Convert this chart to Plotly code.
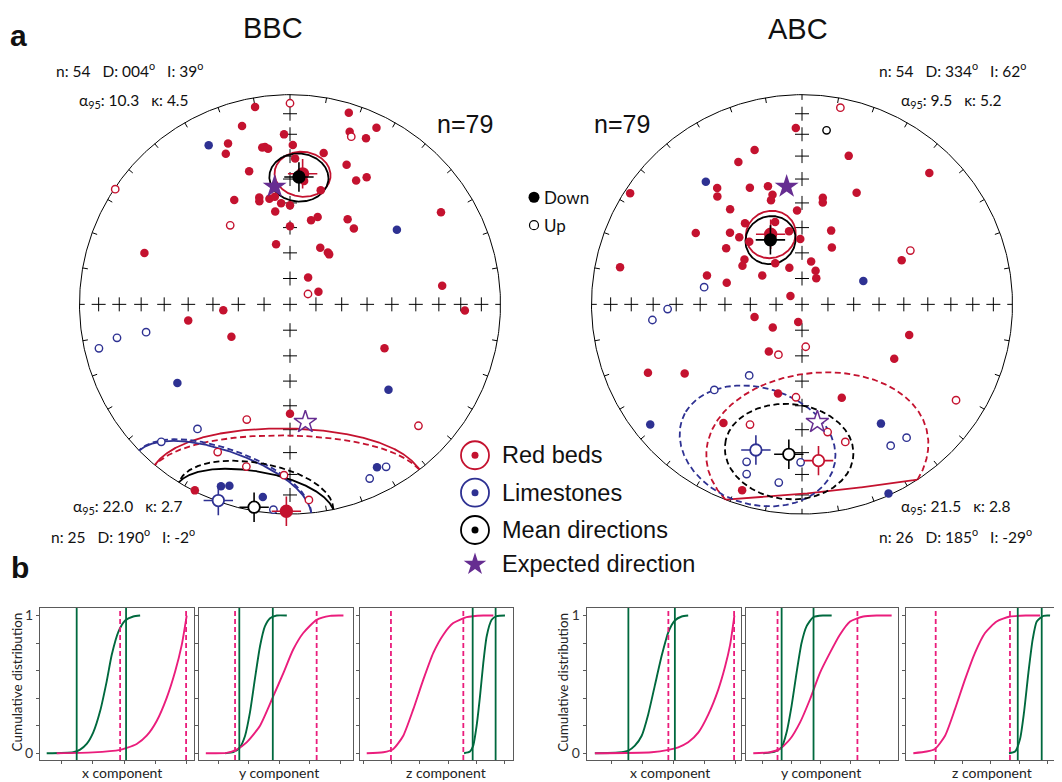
import numpy as np
import plotly.graph_objects as go

W, H = 1062, 782          # browser window
OFF = 8                   # page body margin of the html page
FW, FH = W - OFF, H - OFF  # figure size so that it ends exactly at the window edge
RED, BLUE, PURPLE = "#c4122f", "#2e3192", "#662d91"
GREEN, PINK = "#00693e", "#ea1d7c"

# ---------------- stereonet data: declination / inclination (deg); inc < 0 = upper hemisphere ----------------
bbc_red_dec = [350, 17, 345, 358, 19, 26, 24.5, 339, 350, 351, 352, 1, 337, 12.5, 2, 22, 343, 28, 31, 6.5,
               15, 332, 344, 343.5, 349, 352, 355, 0, 351, 14, 17.5, 34, 40, 0, 58.5, 289.5, 347, 28, 36, 38,
               34, 66, 83,
               0, 20, 303.5, 323, 60,
               265, 92, 261, 241, 115, 180, 207,
               200.5, 133.5, 206, 195, 182, 174.5]
bbc_red_inc = [5, 5, 13, 20, 14, 7, 14, 19, 25, 25, 26, 25, 23, 27, 31, 29, 34, 33.5, 30, 40.5,
               43, 43, 46, 47.5, 47.5, 47, 50, 51, 53, 56, 54, 49.5, 51, 59.5, 17, 27.5, 66, 65, 65, 65.3,
               77.5, 78, 28,
               -4.6, -16, -0.5, -51, -82,
               64, 18, 49.5, 64, 49, 46.7, 0.5,
               -41, -17, -22.7, -21, -19.6, -7]
bbc_lime_dec = [333, 55, 235, 131, 152, 200.7, 198.4, 188, 257, 259, 259, 216.5, 223, 149.5, 155.5, 184.6]
bbc_lime_inc = [16, 38, 35, 38, 13, 8, 9.7, 8, -7.6, -17.4, -31, -27, -11.3, -11, -9.6, -2]
bbc_other_dec = []
bbc_other_inc = []

abc_red_dec = [358, 343, 336, 17.4, 44, 303, 324, 322, 336, 344, 345, 343.5, 11, 11.5, 26, 323, 357, 325, 342, 304,
               315, 317, 320, 335, 350, 358.5, 21.5, 306.6, 27.6, 308, 303, 327, 341, 12, 22, 28.6, 306, 287, 286, 281.6,
               66, 306,
               255, 231.6, 192, 106, 215, 120.6, 246, 239.4, 195, 157, 213.4, 197.8,
               11, 63.5, 175, 205, 183.7, 122, 203.3, 168.7, 162.6]
abc_red_inc = [17, 24, 26.6, 26.7, 14, 3, 32, 35, 39, 41, 45, 47, 47, 49, 40.5, 42.7, 53, 51, 56, 39,
               50, 54, 58, 59.5, 61, 64.5, 59, 53, 65, 61.6, 62.4, 71, 75, 73, 76, 78.5, 71, 51, 59.5, 12.8,
               47, 84.5,
               71, 75.6, 83, 46, 67.6, 47.8, 21, 35.5, 53.7, 50, 32.7, 7.7,
               -5, -42, -73.5, -68.4, -53.4, -14.8, -37.6, -37.9, -31.8]
abc_lime_dec = [322, 69, 231.5, 146.6, 155.5, 280, 264, 268, 216.5, 225.6, 142, 148, 180.5, 199.3, 198, 187.4]
abc_lime_inc = [26.7, 64.5, 8.7, 32.4, 1, -51, -29.3, -36.3, -55.3, -41.3, -20.4, -21.6, -25.6, -21.5, -16, -15.4]
abc_other_dec = [8]
abc_other_inc = [-17.3]

# mean directions: groups in order [red beds, limestones, all]
mean_groups = ["red", "lime", "all"]
bbc_norm_dec, bbc_norm_inc, bbc_norm_a95 = [5.5, None, 4], [37.5, None, 39], [9.7, None, 10.3]
bbc_rev_dec, bbc_rev_inc, bbc_rev_a95 = [181, 200, 190], [1.5, -0.5, -2], [39, 25.8, 22.0]
abc_norm_dec, abc_norm_inc, abc_norm_a95 = [336, None, 334], [60, None, 62], [9.4, None, 9.5]
abc_rev_dec, abc_rev_inc, abc_rev_a95 = [174, 197.5, 185], [-26, -28, -29], [37, 26.5, 21.5]
bbc_norm_n, bbc_norm_k = 54, 4.5
bbc_rev_n, bbc_rev_k = 25, 2.7
abc_norm_n, abc_norm_k = 54, 5.2
abc_rev_n, abc_rev_k = 26, 2.8
total_n = 79
exp_dec, exp_inc = 352.6, 42.8

# ---------------- cumulative distributions (panels: BBC x,y,z then ABC x,y,z) ----------------
cdf_green_x = [
    [0.552, 0.637, 0.659, 0.680, 0.701, 0.723, 0.744, 0.760, 0.781, 0.803, 0.829, 0.851],
    [-0.077, -0.051, -0.029, -0.012, 0.004, 0.020, 0.037, 0.053, 0.070, 0.092, 0.125],
    [0.511, 0.553, 0.576, 0.600, 0.624, 0.647, 0.671, 0.706, 0.741, 0.800],
    [0.548, 0.624, 0.656, 0.677, 0.699, 0.720, 0.742, 0.764, 0.785, 0.806, 0.828, 0.849],
    [-0.097, -0.057, -0.034, -0.017, 0.0, 0.017, 0.034, 0.051, 0.074, 0.108, 0.137],
    [0.529, 0.572, 0.607, 0.635, 0.666, 0.696, 0.725, 0.772, 0.819]]
cdf_green_y = [
    [0, 0.007, 0.026, 0.067, 0.151, 0.306, 0.522, 0.713, 0.880, 0.964, 0.993, 1.0],
    [0, 0.007, 0.043, 0.127, 0.296, 0.536, 0.777, 0.921, 0.981, 1.0, 1.0],
    [0, 0.012, 0.055, 0.2, 0.416, 0.656, 0.85, 0.969, 0.995, 1.0],
    [0, 0.005, 0.019, 0.055, 0.127, 0.282, 0.498, 0.713, 0.880, 0.964, 0.993, 1.0],
    [0, 0.012, 0.043, 0.152, 0.344, 0.584, 0.8, 0.921, 0.988, 1.0, 1.0],
    [0, 0.012, 0.103, 0.296, 0.584, 0.825, 0.957, 0.998, 1.0]]
cdf_pink_x = [
    [0.584, 0.70, 0.787, 0.808, 0.840, 0.872, 0.904, 0.936, 0.963, 0.984, 1.0],
    [-0.141, -0.073, -0.040, -0.007, 0.037, 0.081, 0.114, 0.146, 0.179, 0.223, 0.267, 0.311],
    [-0.176, -0.059, 0.012, 0.082, 0.153, 0.224, 0.294, 0.365, 0.435, 0.529, 0.647, 0.718],
    [0.548, 0.731, 0.785, 0.817, 0.849, 0.882, 0.914, 0.946, 0.968, 0.984, 0.998],
    [-0.131, -0.074, -0.040, -0.005, 0.029, 0.063, 0.097, 0.131, 0.165, 0.2, 0.245, 0.291, 0.342],
    [-0.146, -0.052, 0.007, 0.078, 0.148, 0.219, 0.289, 0.36, 0.442, 0.536, 0.654, 0.748]]
cdf_pink_y = [
    [0, 0.006, 0.024, 0.038, 0.067, 0.127, 0.234, 0.402, 0.593, 0.785, 1.0],
    [0, 0.002, 0.026, 0.079, 0.2, 0.416, 0.584, 0.753, 0.873, 0.969, 0.998, 1.0],
    [0, 0.007, 0.031, 0.127, 0.32, 0.536, 0.729, 0.861, 0.945, 0.988, 1.0, 1.0],
    [0, 0.007, 0.024, 0.043, 0.079, 0.151, 0.282, 0.462, 0.629, 0.785, 1.0],
    [0, 0.007, 0.031, 0.103, 0.224, 0.392, 0.584, 0.729, 0.861, 0.957, 0.993, 1.0, 1.0],
    [0, 0.012, 0.031, 0.127, 0.32, 0.536, 0.729, 0.873, 0.957, 0.993, 1.0, 1.0]]
green_bounds = [[0.648, 0.806], [-0.031, 0.079], [0.572, 0.734], [0.656, 0.806], [-0.034, 0.075], [0.591, 0.76]]
pink_bounds = [[0.787, 0.998], [-0.045, 0.223], [-0.005, 0.506], [0.785, 0.997], [-0.048, 0.225], [0.012, 0.536]]
panel_xrange = [[0.5306, 1.0243], [-0.1624, 0.3414], [-0.2235, 0.8588],
                [0.5216, 1.0177], [-0.1558, 0.3647], [-0.1976, 0.882]]
panel_xticks = [[0.6, 0.7, 0.8, 0.9, 1.0], [-0.1, 0, 0.1, 0.2, 0.3], [-0.2, 0, 0.2, 0.4, 0.6, 0.8],
                [0.6, 0.7, 0.8, 0.9, 1.0], [-0.1, 0, 0.1, 0.2, 0.3], [0, 0.2, 0.4, 0.6, 0.8]]
y_major_ticks = [0, 1]
y_minor_ticks = [0.2, 0.4, 0.6, 0.8]
component_names = ["x component", "y component", "z component"]
legend_labels = ["Red beds", "Limestones", "Mean directions", "Expected direction"]
legend_colors = [RED, BLUE, "black", PURPLE]

# ---------------- helpers ----------------
fig = go.Figure()
shapes, annotations, layout_axes = [], [], {}


def xdom(a, b):
    return [(a - OFF) / FW, (b - OFF) / FW]


def ydom(top, bot):
    return [1 - (bot - OFF) / FH, 1 - (top - OFF) / FH]


def proj(dec, inc):
    d = np.radians(np.asarray(dec, float))
    z = np.sin(np.radians(np.asarray(inc, float)))
    r = np.sqrt(1 - np.abs(z))
    return r * np.sin(d), r * np.cos(d)


def conf_circle(D, I, a, n=1440):
    d, i, A = np.radians(D), np.radians(I), np.radians(a)
    m = np.array([np.cos(i) * np.cos(d), np.cos(i) * np.sin(d), np.sin(i)])
    u = np.array([-np.sin(d), np.cos(d), 0.0])
    v = np.cross(m, u)
    phi = np.linspace(0, 2 * np.pi, n, endpoint=False)
    p = np.cos(A) * m[:, None] + np.sin(A) * (np.outer(u, np.cos(phi)) + np.outer(v, np.sin(phi)))
    N, E, Z = p
    r = np.sqrt(np.clip(1 - np.abs(Z), 0, None))
    h = np.hypot(N, E)
    return r * E / h, r * N / h, Z >= 0


def split_runs(x, y, down):
    n = len(x)
    change = np.nonzero(down != np.roll(down, 1))[0]
    if len(change) == 0:
        return [(np.append(x, x[0]), np.append(y, y[0]), bool(down[0]))]
    s = change[0]
    x, y, down = np.roll(x, -s), np.roll(y, -s), np.roll(down, -s)
    out, start = [], 0
    for k in range(1, n + 1):
        if k == n or down[k] != down[start]:
            out.append((x[start:k], y[start:k], bool(down[start])))
            start = k
    return out


def sc(xa, ya, **kw):
    fig.add_trace(go.Scatter(xaxis=xa, yaxis=ya, showlegend=False, hoverinfo="skip", cliponaxis=False, **kw))


def text(px, py, s, size, family="Lato", color="#111", xanchor="left", bold=False, angle=0):
    x, y = (px - OFF) / FW, 1 - (py - OFF) / FH
    if bold:
        s = "<b>" + s + "</b>"
    annotations.append(dict(x=x, y=y, xref="paper", yref="paper", text=s, showarrow=False,
                            xanchor=xanchor, yanchor="middle", textangle=angle,
                            font=dict(size=size, family=family, color=color)))


GROUP_COLOR = {"red": RED, "lime": BLUE, "all": "black"}
R_PX, PAD = 210.5, 1.1
nets = [("x", "y", 290.0, 303.5,
         (bbc_red_dec, bbc_red_inc), (bbc_lime_dec, bbc_lime_inc), (bbc_other_dec, bbc_other_inc),
         [(bbc_norm_dec, bbc_norm_inc, bbc_norm_a95), (bbc_rev_dec, bbc_rev_inc, bbc_rev_a95)]),
        ("x2", "y2", 802.0, 303.5,
         (abc_red_dec, abc_red_inc), (abc_lime_dec, abc_lime_inc), (abc_other_dec, abc_other_inc),
         [(abc_norm_dec, abc_norm_inc, abc_norm_a95), (abc_rev_dec, abc_rev_inc, abc_rev_a95)])]

for xa, ya, cxp, cyp, red, lime, other, means in nets:
    half = R_PX * PAD
    sfx = xa[1:]
    layout_axes["xaxis" + sfx] = dict(domain=xdom(cxp - half, cxp + half), range=[-PAD, PAD],
                                      visible=False, fixedrange=True, anchor=ya)
    layout_axes["yaxis" + sfx] = dict(domain=ydom(cyp - half, cyp + half), range=[-PAD, PAD],
                                      visible=False, fixedrange=True, anchor=xa)
    # primitive circle
    t = np.radians(np.arange(0, 360.5, 0.5))
    sc(xa, ya, x=np.sin(t), y=np.cos(t), mode="lines", line=dict(color="black", width=1))
    # declination ticks every 10 degrees
    tx, ty = [], []
    for dd in range(0, 360, 10):
        a = np.radians(dd)
        tx += [np.sin(a), 0.975 * np.sin(a), None]
        ty += [np.cos(a), 0.975 * np.cos(a), None]
    sc(xa, ya, x=tx, y=ty, mode="lines", line=dict(color="black", width=1))
    # inclination crosses on the N-S and E-W axes
    rr = np.sqrt(1 - np.sin(np.radians(np.arange(10, 90, 10))))
    crx = np.concatenate([[0], rr, -rr, np.zeros(16)])
    cry = np.concatenate([[0], np.zeros(16), rr, -rr])
    sc(xa, ya, x=crx, y=cry, mode="markers",
       marker=dict(symbol="cross-thin-open", size=10, color="black", line=dict(width=1)))
    # confidence circles
    for mdec, minc, ma95 in means:
        for g, D, I, A in zip(mean_groups, mdec, minc, ma95):
            if D is None:
                continue
            ex, ey, dn = conf_circle(D, I, A)
            for rx, ry, down in split_runs(ex, ey, dn):
                sc(xa, ya, x=rx, y=ry, mode="lines",
                   line=dict(color=GROUP_COLOR[g], width=1.8, dash="solid" if down else "6px,3.5px"))
    # individual directions
    for (dec, inc), col in [(red, RED), (lime, BLUE), (other, "black")]:
        if len(dec) == 0:
            continue
        px_, py_ = proj(dec, inc)
        dn = np.asarray(inc) >= 0
        sc(xa, ya, x=px_[dn], y=py_[dn], mode="markers",
           marker=dict(symbol="circle", size=8.5, color=col, line=dict(width=0)))
        sc(xa, ya, x=px_[~dn], y=py_[~dn], mode="markers",
           marker=dict(symbol="circle", size=7.4, color="white", line=dict(width=1.4, color=col)))
    # expected direction (down) and its antipode (up)
    sx, sy = proj([exp_dec], [exp_inc])
    sc(xa, ya, x=sx, y=sy, mode="markers", marker=dict(symbol="star", size=18, color=PURPLE, line=dict(width=0)))
    sx, sy = proj([(exp_dec + 180) % 360], [-exp_inc])
    sc(xa, ya, x=sx, y=sy, mode="markers",
       marker=dict(symbol="star", size=17, color="white", line=dict(width=1.5, color=PURPLE)))
    # mean directions
    for mdec, minc, ma95 in means:
        for g, D, I in zip(mean_groups, mdec, minc):
            if D is None:
                continue
            mx, my = proj([D], [I])
            col = GROUP_COLOR[g]
            sc(xa, ya, x=mx, y=my, mode="markers",
               marker=dict(symbol="cross-thin-open", size=21, color=col, line=dict(width=1.6)))
            sc(xa, ya, x=mx, y=my, mode="markers",
               marker=dict(symbol="circle", size=11.5, color=col if I >= 0 else "white",
                           line=dict(width=1.8, color=col)))

# ---------------- CDF panels ----------------
panel_left = [40, 199.3, 360, 586.7, 746, 906]
panel_right = [194.3, 352.7, 513.3, 740.5, 898.3, 1059]
panel_top, panel_bot = 608.3, 761
label_cx = [122, 278.8, 445.5, 670, 820.8, 991.7]
FRAME = "#5a5a5a"
for k in range(6):
    n = k + 3
    xa, ya = f"x{n}", f"y{n}"
    sc(xa, ya, x=cdf_green_x[k], y=cdf_green_y[k], mode="lines",
       line=dict(color=GREEN, width=1.9, shape="spline", smoothing=0.6))
    sc(xa, ya, x=cdf_pink_x[k], y=cdf_pink_y[k], mode="lines",
       line=dict(color=PINK, width=1.9, shape="spline", smoothing=0.6))
    for v in green_bounds[k]:
        shapes.append(dict(type="line", xref=xa, yref=f"{ya} domain", x0=v, x1=v, y0=0, y1=1,
                           line=dict(color=GREEN, width=1.8)))
    for v in pink_bounds[k]:
        shapes.append(dict(type="line", xref=xa, yref=f"{ya} domain", x0=v, x1=v, y0=0, y1=1,
                           line=dict(color=PINK, width=1.8, dash="5px,3px")))
    first = k in (0, 3)
    layout_axes[f"xaxis{n}"] = dict(domain=xdom(panel_left[k], panel_right[k]), range=panel_xrange[k],
                                    anchor=ya, showline=True, mirror=True, linecolor=FRAME, linewidth=1.3,
                                    ticks="outside", ticklen=3, tickwidth=1, tickcolor=FRAME,
                                    tickvals=panel_xticks[k], showticklabels=False, showgrid=False,
                                    zeroline=False, fixedrange=True)
    layout_axes[f"yaxis{n}"] = dict(domain=ydom(panel_top, panel_bot), range=[-0.05, 1.055],
                                    anchor=xa, showline=True, mirror=True, linecolor=FRAME, linewidth=1.3,
                                    ticks="outside", ticklen=3, tickwidth=1, tickcolor=FRAME,
                                    tickvals=y_major_ticks, ticktext=[str(v) for v in y_major_ticks],
                                    minor=dict(tickvals=y_minor_ticks, ticks="outside", ticklen=3,
                                               tickwidth=1, tickcolor=FRAME, showgrid=False),
                                    showticklabels=first, tickfont=dict(size=14, family="Lato", color="#333"),
                                    showgrid=False, zeroline=False, fixedrange=True)
    text(label_cx[k], 773.3, component_names[k % 3], 14, color="#222", xanchor="center")
text(17, 683, "Cumulative distribution", 13.5, color="#222", xanchor="center", angle=-90)
text(563.3, 683, "Cumulative distribution", 13.5, color="#222", xanchor="center", angle=-90)

# ---------------- legend (rows on a helper axis) ----------------
layout_axes["xaxis9"] = dict(domain=xdom(450, 730), range=[0, 280], visible=False, anchor="y9", fixedrange=True)
layout_axes["yaxis9"] = dict(domain=ydom(440, 590), range=[3.6, -0.4], visible=False, anchor="x9",
                             fixedrange=True)
legend_rows = [0, 1, 2, 2.92]
for row, lab, col in zip(legend_rows, legend_labels, legend_colors):
    if lab == "Expected direction":
        sc("x9", "y9", x=[25], y=[row], mode="markers", marker=dict(symbol="star", size=17, color=col))
    else:
        sc("x9", "y9", x=[25], y=[row], mode="markers",
           marker=dict(symbol="circle-open", size=28, color=col, line=dict(width=1.8)))
        sc("x9", "y9", x=[25], y=[row], mode="markers", marker=dict(symbol="circle", size=7, color=col))
    annotations.append(dict(x=50, y=row, xref="x9", yref="y9", text=lab, showarrow=False, xanchor="left",
                            yanchor="middle", font=dict(size=23.5, family="Liberation Sans", color="#111")))

layout_axes["xaxis10"] = dict(domain=xdom(520, 620), range=[0, 100], visible=False, anchor="y10", fixedrange=True)
layout_axes["yaxis10"] = dict(domain=ydom(180, 240), range=[1.571, -0.571], visible=False,
                              anchor="x10", fixedrange=True)
sc("x10", "y10", x=[14], y=[0], mode="markers", marker=dict(symbol="circle", size=11, color="black"))
sc("x10", "y10", x=[14], y=[1], mode="markers",
   marker=dict(symbol="circle", size=9, color="white", line=dict(width=1.2, color="black")))
for row, lab in [(0, "Down"), (1, "Up")]:
    annotations.append(dict(x=22, y=row, xref="x10", yref="y10", text=lab, showarrow=False, xanchor="left",
                            yanchor="middle", font=dict(size=17, family="Lato", color="#111")))

# ---------------- texts ----------------
SP = "\u00a0\u00a0\u00a0"


def line_n(N, D, I):
    return f"n: {N}{SP}D: {D:03.0f}<sup>o</sup>{SP}I: {I:.0f}<sup>o</sup>"


def line_a(a95, k):
    return f"α<sub>95</sub>: {a95:.1f}{SP}κ: {k:.1f}"


text(18, 34, "a", 30, family="Liberation Sans", bold=True, xanchor="center")
text(20, 568, "b", 30, family="Liberation Sans", bold=True, xanchor="center")
text(272.5, 26, "BBC", 29, family="Liberation Sans", xanchor="center")
text(797.5, 27, "ABC", 29, family="Liberation Sans", xanchor="center")
text(464.7, 122, f"n={total_n}", 25, family="Liberation Sans", xanchor="center")
text(621.7, 122, f"n={total_n}", 25, family="Liberation Sans", xanchor="center")
STAT = 15.5
text(54, 67.7, line_n(bbc_norm_n, bbc_norm_dec[2], bbc_norm_inc[2]), STAT)
text(77, 99.3, line_a(bbc_norm_a95[2], bbc_norm_k), STAT)
text(71, 506.7, line_a(bbc_rev_a95[2], bbc_rev_k), STAT)
text(49, 536, line_n(bbc_rev_n, bbc_rev_dec[2], bbc_rev_inc[2]), STAT)
text(876.7, 67.7, line_n(abc_norm_n, abc_norm_dec[2], abc_norm_inc[2]), STAT)
text(899.3, 99.3, line_a(abc_norm_a95[2], abc_norm_k), STAT)
text(899.3, 506.7, line_a(abc_rev_a95[2], abc_rev_k), STAT)
text(877.3, 536, line_n(abc_rev_n, abc_rev_dec[2], abc_rev_inc[2]), STAT)

fig.update_layout(width=FW, height=FH, margin=dict(l=0, r=0, t=0, b=0, pad=0),
                  paper_bgcolor="white", plot_bgcolor="rgba(0,0,0,0)", showlegend=False,
                  shapes=shapes, annotations=annotations, **layout_axes)
fig.write_html("out.html")
